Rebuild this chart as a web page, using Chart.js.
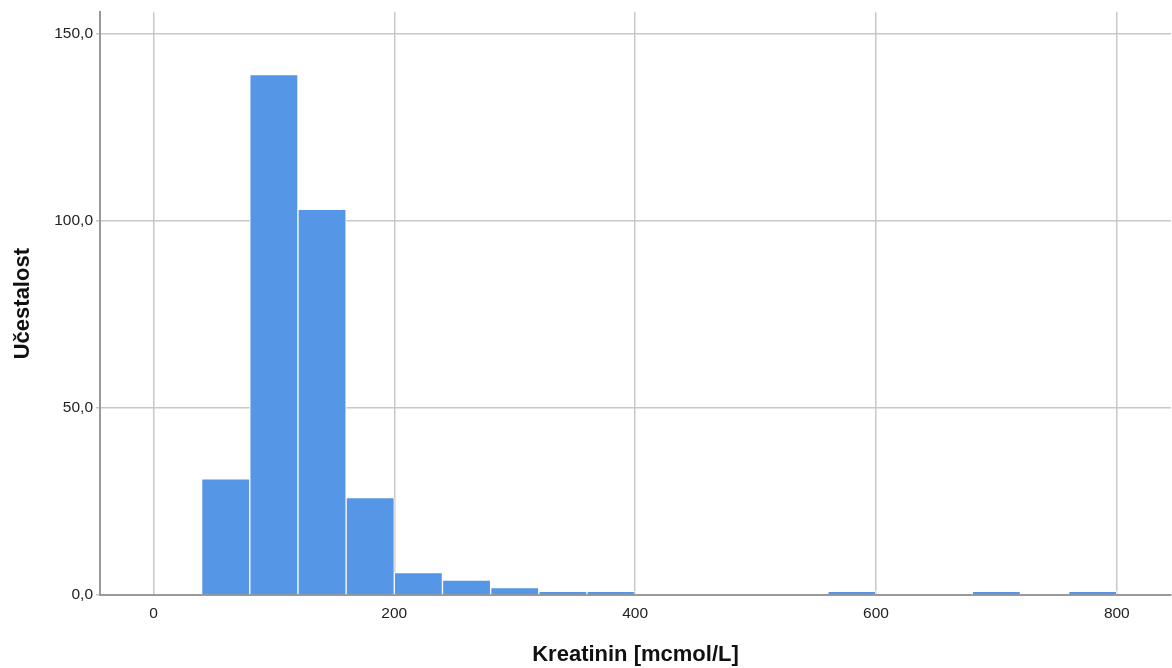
<!DOCTYPE html>
<html>
<head>
<meta charset="utf-8">
<script src="https://cdn.jsdelivr.net/npm/chart.js@4/dist/chart.umd.min.js"></script>
<style>
  html, body { margin: 0; padding: 0; background: #fff; }
  #wrap { width: 1172px; height: 668px; }
</style>
</head>
<body>
<div id="wrap"><canvas id="histogram" width="1172" height="668"></canvas></div>
<script>
// histogram bins (Kreatinin, width 40) and counts
const binCenters = [60, 100, 140, 180, 220, 260, 300, 340, 380, 420, 460, 500, 540, 580, 620, 660, 700, 740, 780];
const counts     = [31, 139, 103, 26, 6, 4, 2, 1, 1, 0, 0, 0, 0, 1, 0, 0, 1, 0, 1];
const xTicks = [0, 200, 400, 600, 800];
const yTicks = [0, 50, 100, 150];

const barColor = "#5596e6";
const gridColor = "#c8c8c8";
const axisColor = "#999999";
const textColor = "#222222";
const fontFam = "Arial, 'Liberation Sans'";

const ctx = document.getElementById("histogram").getContext("2d");
new Chart(ctx, {
  type: "bar",
  data: {
    datasets: [{
      data: binCenters.map((c, i) => ({ x: c, y: counts[i] })),
      backgroundColor: barColor,
      borderColor: "#ffffff",
      borderWidth: 1,
      barPercentage: 1,
      categoryPercentage: 1
    }]
  },
  options: {
    responsive: false,
    animation: false,
    layout: { padding: { top: 12, right: 1, left: 0, bottom: 0 } },
    plugins: { legend: { display: false }, tooltip: { enabled: false } },
    scales: {
      x: {
        type: "linear",
        offset: false,
        min: -44.4,
        max: 845,
        afterBuildTicks: s => { s.ticks = xTicks.map(v => ({ value: v })); },
        afterFit: s => { s.height = 73; },
        grid: { color: gridColor, lineWidth: 1.5, offset: false, drawTicks: false },
        border: { color: axisColor, width: 2 },
        ticks: { color: textColor, font: { family: fontFam, size: 15.5 }, padding: 9, maxRotation: 0 },
        title: {
          display: true,
          text: "Kreatinin [mcmol/L]",
          color: "#111",
          font: { family: fontFam, size: 22, weight: "bold" },
          padding: { top: 15, bottom: 0 }
        }
      },
      y: {
        min: 0,
        max: 155.6,
        afterBuildTicks: s => { s.ticks = yTicks.map(v => ({ value: v })); },
        afterFit: s => { s.width = 100; },
        grid: { color: gridColor, lineWidth: 1.5, tickLength: 4 },
        border: { color: axisColor, width: 2 },
        ticks: {
          color: textColor,
          font: { family: fontFam, size: 15.5 },
          padding: 3,
          callback: v => v.toFixed(1).replace(".", ",")
        },
        title: {
          display: true,
          text: "Učestalost",
          color: "#111",
          font: { family: fontFam, size: 22, weight: "bold" },
          padding: { top: 10, bottom: 0 }
        }
      }
    }
  }
});
</script>
</body>
</html>
